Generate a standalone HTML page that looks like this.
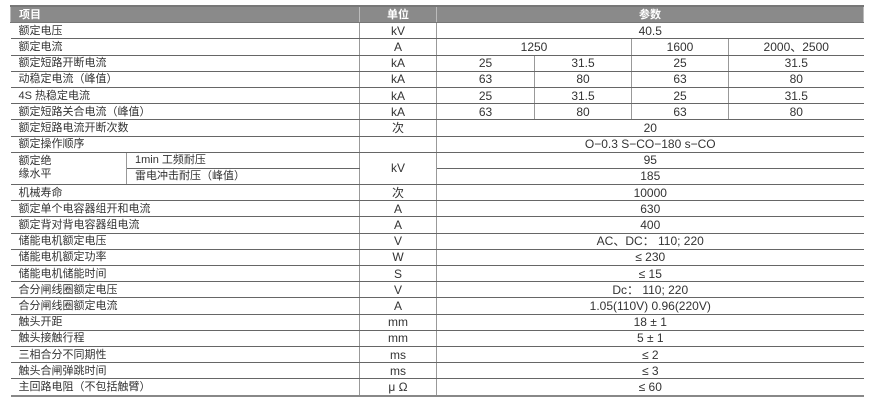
<!DOCTYPE html>
<html><head><meta charset="utf-8"><style>
html,body{margin:0;padding:0;background:#fff;width:875px;height:401px;overflow:hidden}
table{position:absolute;left:10px;top:5px;border-collapse:collapse;table-layout:fixed;width:853px;font-family:"Liberation Sans","Noto Sans CJK SC",sans-serif;font-size:12px;color:#333}
td{height:15.2px;padding:0;border-top:1px solid #666;border-bottom:1px solid #666;border-left:1px solid #999;border-right:1px solid #999;text-align:center;line-height:14px;white-space:nowrap;overflow:hidden}
td.l{text-align:left;padding-left:8px;font-size:11px}
tr td:first-child{border-left:none}
tr td:last-child{border-right:none}
tr.h td{background:#8a8a8a;color:#fff;font-weight:bold;font-size:11px;border-top:2px solid #777;border-bottom:1px solid #777;border-left:1px solid #bbb;border-right:1px solid #bbb}
tr.last td{border-bottom:2px solid #888}
</style></head><body>
<table>
<colgroup><col style="width:116px"><col style="width:233px"><col style="width:77px"><col style="width:98px"><col style="width:97px"><col style="width:97px"><col style="width:135px"></colgroup>
<tr class="h"><td class="l" colspan="2">项目</td><td>单位</td><td colspan="4">参数</td></tr>
<tr><td class="l" colspan="2">额定电压</td><td>kV</td><td colspan="4">40.5</td></tr>
<tr><td class="l" colspan="2">额定电流</td><td>A</td><td colspan="2">1250</td><td>1600</td><td>2000、2500</td></tr>
<tr><td class="l" colspan="2">额定短路开断电流</td><td>kA</td><td>25</td><td>31.5</td><td>25</td><td>31.5</td></tr>
<tr><td class="l" colspan="2">动稳定电流（峰值）</td><td>kA</td><td>63</td><td>80</td><td>63</td><td>80</td></tr>
<tr><td class="l" colspan="2">4S 热稳定电流</td><td>kA</td><td>25</td><td>31.5</td><td>25</td><td>31.5</td></tr>
<tr><td class="l" colspan="2">额定短路关合电流（峰值）</td><td>kA</td><td>63</td><td>80</td><td>63</td><td>80</td></tr>
<tr><td class="l" colspan="2">额定短路电流开断次数</td><td>次</td><td colspan="4">20</td></tr>
<tr><td class="l" colspan="2">额定操作顺序</td><td></td><td colspan="4">O−0.3 S−CO−180 s−CO</td></tr>
<tr><td class="l" rowspan="2" style="white-space:normal;line-height:13px">额定绝<br>缘水平</td><td class="l">1min 工频耐压</td><td rowspan="2">kV</td><td colspan="4">95</td></tr>
<tr><td class="l">雷电冲击耐压（峰值）</td><td colspan="4">185</td></tr>
<tr><td class="l" colspan="2">机械寿命</td><td>次</td><td colspan="4">10000</td></tr>
<tr><td class="l" colspan="2">额定单个电容器组开和电流</td><td>A</td><td colspan="4">630</td></tr>
<tr><td class="l" colspan="2">额定背对背电容器组电流</td><td>A</td><td colspan="4">400</td></tr>
<tr><td class="l" colspan="2">储能电机额定电压</td><td>V</td><td colspan="4">AC、DC： 110; 220</td></tr>
<tr><td class="l" colspan="2">储能电机额定功率</td><td>W</td><td colspan="4">≤ 230</td></tr>
<tr><td class="l" colspan="2">储能电机储能时间</td><td>S</td><td colspan="4">≤ 15</td></tr>
<tr><td class="l" colspan="2">合分闸线圈额定电压</td><td>V</td><td colspan="4">Dc： 110; 220</td></tr>
<tr><td class="l" colspan="2">合分闸线圈额定电流</td><td>A</td><td colspan="4">1.05(110V) 0.96(220V)</td></tr>
<tr><td class="l" colspan="2">触头开距</td><td>mm</td><td colspan="4">18 ± 1</td></tr>
<tr><td class="l" colspan="2">触头接触行程</td><td>mm</td><td colspan="4">5 ± 1</td></tr>
<tr><td class="l" colspan="2">三相合分不同期性</td><td>ms</td><td colspan="4">≤ 2</td></tr>
<tr><td class="l" colspan="2">触头合闸弹跳时间</td><td>ms</td><td colspan="4">≤ 3</td></tr>
<tr class="last"><td class="l" colspan="2">主回路电阻（不包括触臂）</td><td>μ Ω</td><td colspan="4">≤ 60</td></tr>
</table>
</body></html>
